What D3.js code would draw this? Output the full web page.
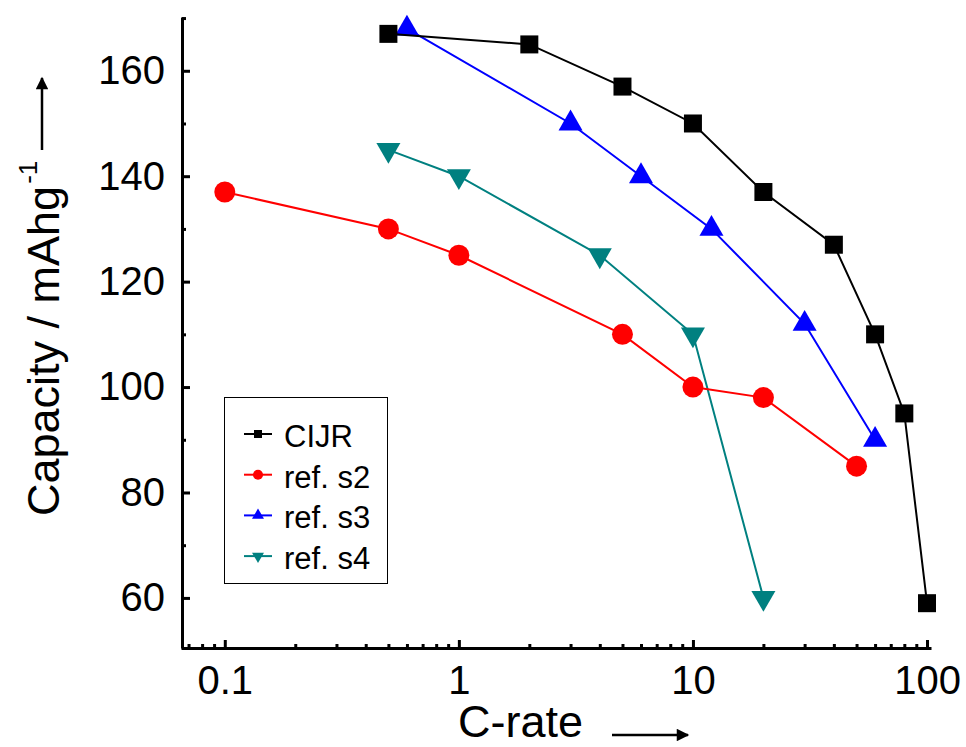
<!DOCTYPE html>
<html>
<head>
<meta charset="utf-8">
<script src="https://cdnjs.cloudflare.com/ajax/libs/d3/7.8.5/d3.min.js"></script>
<style>
    html, body { margin: 0; padding: 0; background: #fff; }
    svg { display: block; font-family: "Liberation Sans", Arial, sans-serif; }
</style>
</head>
<body>
<div class="chart"></div>
<script>
'use strict';

/*---------------------------------------------------------------
data
---------------------------------------------------------------*/
var seriesNames = ['CIJR', 'ref. s2', 'ref. s3', 'ref. s4'];

var cijrX = [0.5, 2, 5, 10, 20, 40, 60, 80, 100];
var cijrY = [167, 165, 157, 150, 137, 127, 110, 95, 59];

var s2X = [0.1, 0.5, 1, 5, 10, 20, 50];
var s2Y = [137, 130, 125, 110, 100, 98, 85];

var s3X = [0.6, 3, 6, 12, 30, 60];
var s3Y = [168, 150, 140, 130, 112, 90];

var s4X = [0.5, 1, 4, 10, 20];
var s4Y = [145, 140, 125, 110, 60];

var xTicks = [0.1, 1, 10, 100];
var xTickLabels = ['0.1', '1', '10', '100'];
var yTicks = [60, 80, 100, 120, 140, 160];

/*---------------------------------------------------------------
size + scales
---------------------------------------------------------------*/
var w = 966,
    h = 747;

var x = d3.scaleLog().domain([0.065, 104]).range([181, 931]);
var y = d3.scaleLinear().domain([50.5, 170.2]).range([648, 17]);

var svg = d3.select('.chart')
    .append('svg')
    .attr('width', w)
    .attr('height', h);

// minor ticks
var xMinor = [];
[0.01, 0.1, 1, 10].forEach(function(dec) {
    for (var k = 2; k <= 9; k++) {
        var v = dec * k;
        if (v >= 0.065 && v < 100 && xTicks.indexOf(v) < 0) xMinor.push(v);
    }
});
var yMinor = [70, 90, 110, 130, 150, 170];

/*---------------------------------------------------------------
axes
---------------------------------------------------------------*/
svg.append('g')
    .attr('transform', 'translate(0,648)')
    .call(d3.axisBottom(x)
        .tickValues(xTicks)
        .tickFormat(function(d, i) { return xTickLabels[i]; })
        .tickSizeInner(-8)
        .tickSizeOuter(0)
        .tickPadding(18));

svg.append('g')
    .attr('transform', 'translate(0,648)')
    .call(d3.axisBottom(x).tickValues(xMinor).tickFormat('').tickSizeInner(-4).tickSizeOuter(0))
    .select('.domain').remove();

svg.append('g')
    .attr('transform', 'translate(182,0)')
    .call(d3.axisLeft(y)
        .tickValues(yTicks)
        .tickSizeInner(-8)
        .tickSizeOuter(0)
        .tickPadding(17));

svg.append('g')
    .attr('transform', 'translate(182,0)')
    .call(d3.axisLeft(y).tickValues(yMinor).tickFormat('').tickSizeInner(-4).tickSizeOuter(0))
    .select('.domain').remove();

svg.selectAll('.domain').attr('stroke', '#000').attr('stroke-width', 3);
svg.selectAll('.tick line').attr('stroke', '#000').attr('stroke-width', 3);
svg.selectAll('.tick text')
    .attr('fill', '#000')
    .attr('font-size', 40)
    .attr('font-family', '"Liberation Sans", Arial, sans-serif');

/*---------------------------------------------------------------
axis titles + arrows
---------------------------------------------------------------*/
var defs = svg.append('defs');
defs.append('marker')
    .attr('id', 'arrow')
    .attr('viewBox', '0 0 10 10')
    .attr('refX', 9)
    .attr('refY', 5)
    .attr('markerWidth', 6)
    .attr('markerHeight', 5)
    .attr('markerUnits', 'strokeWidth')
    .attr('orient', 'auto')
    .append('path')
    .attr('d', 'M0,0 L10,5 L0,10 Z')
    .attr('fill', '#000');

var yTitle = svg.append('text')
    .attr('transform', 'translate(59,516) rotate(-90)')
    .attr('font-size', 45)
    .attr('fill', '#000');
yTitle.append('tspan').text('Capacity / mAhg');
yTitle.append('tspan').attr('font-size', 26).attr('dx', 2).attr('dy', -22).text('-1');

svg.append('line')
    .attr('x1', 42).attr('y1', 150)
    .attr('x2', 42).attr('y2', 78)
    .attr('stroke', '#000').attr('stroke-width', 2.5)
    .attr('marker-end', 'url(#arrow)');

svg.append('text')
    .attr('x', 458)
    .attr('y', 737)
    .attr('font-size', 45)
    .attr('fill', '#000')
    .text('C-rate');

svg.append('line')
    .attr('x1', 612).attr('y1', 735)
    .attr('x2', 688).attr('y2', 735)
    .attr('stroke', '#000').attr('stroke-width', 2.5)
    .attr('marker-end', 'url(#arrow)');

/*---------------------------------------------------------------
series
---------------------------------------------------------------*/
function pairs(xs, ys) {
    return xs.map(function(v, i) { return [v, ys[i]]; });
}

var series = [
    { name: seriesNames[0], data: pairs(cijrX, cijrY), color: '#000000', sym: d3.symbolSquare, size: 324, rot: 0, lsize: 64 },
    { name: seriesNames[1], data: pairs(s2X, s2Y), color: '#ff0000', sym: d3.symbolCircle, size: 346, rot: 0, lsize: 80 },
    { name: seriesNames[2], data: pairs(s3X, s3Y), color: '#0000ff', sym: d3.symbolTriangle, size: 250, rot: 0, lsize: 62 },
    { name: seriesNames[3], data: pairs(s4X, s4Y), color: '#008080', sym: d3.symbolTriangle, size: 250, rot: 180, lsize: 62 }
];

var line = d3.line()
    .x(function(d) { return x(d[0]); })
    .y(function(d) { return y(d[1]); });

// draw in reverse so CIJR sits on top
series.slice().reverse().forEach(function(s) {
    var g = svg.append('g');
    g.append('path')
        .datum(s.data)
        .attr('d', line)
        .attr('fill', 'none')
        .attr('stroke', s.color)
        .attr('stroke-width', 2);
    g.selectAll('path.pt')
        .data(s.data)
        .enter()
        .append('path')
        .attr('class', 'pt')
        .attr('d', d3.symbol().type(s.sym).size(s.size))
        .attr('transform', function(d) {
            return 'translate(' + x(d[0]) + ',' + y(d[1]) + ') rotate(' + s.rot + ')';
        })
        .attr('fill', s.color);
});

/*---------------------------------------------------------------
legend
---------------------------------------------------------------*/
var legend = svg.append('g');
legend.append('rect')
    .attr('x', 224.5).attr('y', 397.5)
    .attr('width', 163).attr('height', 186)
    .attr('fill', '#fff')
    .attr('stroke', '#000')
    .attr('stroke-width', 1);

var rows = legend.selectAll('g.row')
    .data(series)
    .enter()
    .append('g')
    .attr('class', 'row')
    .attr('transform', function(d, i) { return 'translate(0,' + (434 + i * 40.7) + ')'; });

rows.append('line')
    .attr('x1', 244).attr('x2', 272)
    .attr('y1', 0).attr('y2', 0)
    .attr('stroke', function(d) { return d.color; })
    .attr('stroke-width', 2);

rows.append('path')
    .attr('d', function(d) { return d3.symbol().type(d.sym).size(d.lsize)(); })
    .attr('transform', function(d) { return 'translate(258,0) rotate(' + d.rot + ')'; })
    .attr('fill', function(d) { return d.color; });

rows.append('text')
    .attr('x', 284)
    .attr('y', 3)
    .attr('dy', '0.32em')
    .attr('font-size', 31)
    .attr('fill', '#000')
    .text(function(d) { return d.name; });
</script>
</body>
</html>
